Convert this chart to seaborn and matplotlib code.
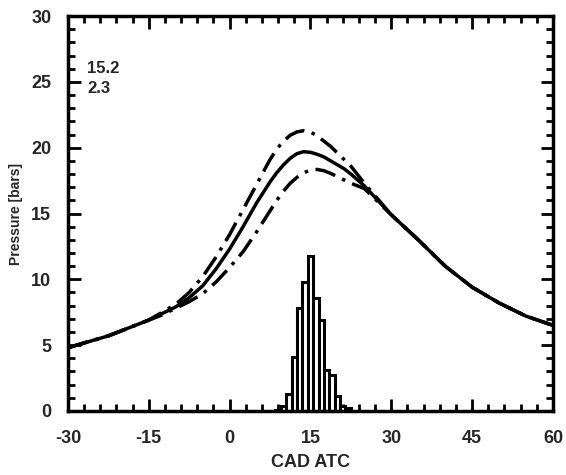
import numpy as np
import pandas as pd
import matplotlib
matplotlib.use("Agg")
import matplotlib.pyplot as plt
from matplotlib.ticker import MultipleLocator
import seaborn as sns

# crank angle grid (deg ATC)
cad = [-30, -27.5, -25, -22.5, -20, -17.5, -15, -12.5, -10, -7.5, -5, -2.5,
       0, 2.5, 5, 7.5, 8.75, 10, 11.25, 12.5, 13.75, 15, 16.25, 17.5, 18.75,
       20, 21.25, 22.5, 25, 27.5, 30, 35, 40, 45, 50, 55, 60]

# pressure traces [bars]
p_mean = [4.8, 5.1, 5.4, 5.7, 6.1, 6.5, 6.9, 7.4, 7.9, 8.6, 9.5, 10.8,
          12.3, 14.0, 15.8, 17.4, 18.1, 18.7, 19.2, 19.55, 19.7, 19.65, 19.5, 19.3, 19.0,
          18.7, 18.4, 18.0, 17.1, 16.0, 14.9, 13.0, 11.0, 9.4, 8.2, 7.2, 6.5]
p_high = [4.8, 5.1, 5.4, 5.7, 6.1, 6.5, 6.9, 7.5, 8.1, 9.0, 10.2, 11.7,
          13.4, 15.3, 17.2, 19.1, 19.9, 20.5, 20.95, 21.2, 21.3, 21.2, 20.9, 20.5, 20.1,
          19.6, 19.1, 18.6, 17.3, 16.1, 14.9, 13.0, 11.0, 9.4, 8.2, 7.2, 6.5]
p_low = [4.8, 5.1, 5.4, 5.7, 6.1, 6.5, 6.9, 7.3, 7.8, 8.3, 8.9, 9.8,
         10.9, 12.1, 13.6, 15.2, 16.0, 16.7, 17.3, 17.75, 18.1, 18.3, 18.35, 18.25, 18.05,
         17.8, 17.55, 17.3, 16.9, 15.9, 14.9, 13.0, 11.0, 9.4, 8.2, 7.2, 6.5]

# histogram of peak pressure location
hist_cad = [9, 10, 11, 12, 13, 14, 15, 16, 17, 18, 19, 20, 21, 22]
hist_cnt = [0.1, 0.4, 1.3, 4.1, 7.8, 9.8, 11.8, 8.6, 6.9, 3.1, 2.7, 1.1, 0.4, 0.2]

stats_text = ["15.2", "2.3"]

sns.set_style("ticks")
plt.rcParams["font.family"] = ["Liberation Sans", "DejaVu Sans"]
plt.rcParams["font.weight"] = "bold"
plt.rcParams["axes.unicode_minus"] = False

fig = plt.figure(figsize=(5.66, 4.75), dpi=100)
ax = fig.add_axes([0.120, 0.135, 0.857, 0.831])

df = pd.DataFrame({"cad": cad, "mean": p_mean, "high": p_high, "low": p_low})

sns.histplot(x=hist_cad, weights=hist_cnt, binwidth=1, binrange=(8.5, 22.5),
             color="white", edgecolor="black", linewidth=2.2, alpha=1, ax=ax)

dashdot = (0, (6, 2.2, 1, 2.2))
sns.lineplot(data=df, x="cad", y="mean", color="black", linewidth=2.5, ax=ax)
sns.lineplot(data=df, x="cad", y="high", color="black", linewidth=2.5,
             linestyle=dashdot, ax=ax)
sns.lineplot(data=df, x="cad", y="low", color="black", linewidth=2.5,
             linestyle=dashdot, ax=ax)

ax.set_xlim(-30, 60)
ax.set_ylim(0, 30)
ax.xaxis.set_major_locator(MultipleLocator(15))
ax.xaxis.set_minor_locator(MultipleLocator(3))
ax.yaxis.set_major_locator(MultipleLocator(5))
ax.yaxis.set_minor_locator(MultipleLocator(1))
ax.tick_params(which="both", direction="in", top=True, right=True, width=2, color="black")
ax.tick_params(which="major", length=9, labelsize=13)
ax.tick_params(axis="x", which="major", pad=14)
ax.tick_params(axis="y", which="major", pad=12)
ax.tick_params(which="minor", length=5)
for s in ax.spines.values():
    s.set_linewidth(2.5)
    s.set_color("black")
for lab in ax.get_xticklabels() + ax.get_yticklabels():
    lab.set_fontweight("heavy")

ax.set_xlabel("CAD ATC", fontsize=13, fontweight="heavy", labelpad=5)
ax.set_ylabel("Pressure [bars]", fontsize=10, fontweight="heavy", labelpad=6)

ax.text(-26.4, 26.0, stats_text[0], fontsize=12, fontweight="heavy", va="center")
ax.text(-26.4, 24.5, stats_text[1], fontsize=12, fontweight="heavy", va="center")

fig.savefig("out.png", dpi=100)
